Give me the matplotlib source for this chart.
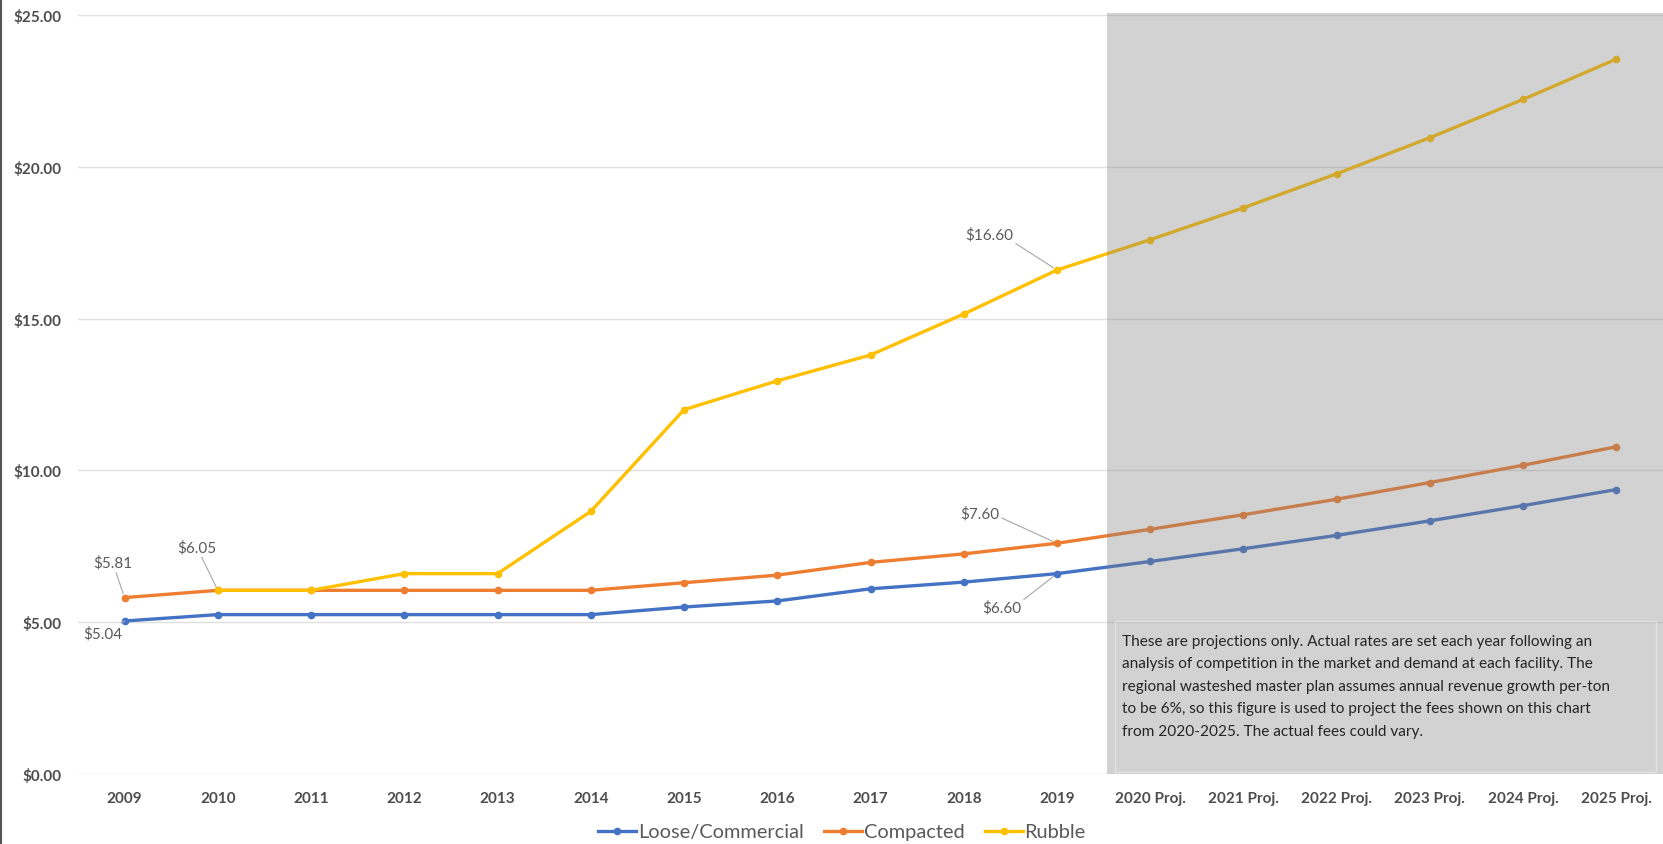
import numpy as np
import matplotlib
matplotlib.use("Agg")
import matplotlib.pyplot as plt
from matplotlib.patches import Rectangle
from matplotlib.lines import Line2D

plt.rcParams['font.family'] = ['Lato', 'DejaVu Sans']

categories = ["2009", "2010", "2011", "2012", "2013", "2014", "2015", "2016",
              "2017", "2018", "2019", "2020 Proj.", "2021 Proj.", "2022 Proj.",
              "2023 Proj.", "2024 Proj.", "2025 Proj."]
loose = [5.04, 5.25, 5.25, 5.25, 5.25, 5.25, 5.50, 5.70, 6.10, 6.32, 6.60,
         7.00, 7.42, 7.86, 8.34, 8.84, 9.37]
compacted = [5.81, 6.05, 6.05, 6.05, 6.05, 6.05, 6.30, 6.55, 6.97, 7.25, 7.60,
             8.06, 8.54, 9.05, 9.60, 10.17, 10.78]
rubble = [np.nan, 6.05, 6.05, 6.60, 6.60, 8.65, 12.00, 12.95, 13.80, 15.15, 16.60,
          17.60, 18.65, 19.77, 20.96, 22.22, 23.55]
yticks = [0, 5, 10, 15, 20, 25]
note = ("These are projections only. Actual rates are set each year following an\n"
        "analysis of competition in the market and demand at each facility. The\n"
        "regional wasteshed master plan assumes annual revenue growth per-ton\n"
        "to be 6%, so this figure is used to project the fees shown on this chart\n"
        "from 2020-2025. The actual fees could vary.")

W, H = 1663, 845
fig = plt.figure(figsize=(W / 100, H / 100), dpi=100)
ax = fig.add_axes([78 / W, 1 - 775 / H, 1 - 78 / W, (775 - 16) / H])

x = np.arange(len(categories))
series = [("Loose/Commercial", loose, "#4472C4"),
          ("Compacted", compacted, "#ED7D31"),
          ("Rubble", rubble, "#FFC000")]
handles = []
for name, vals, col in series:
    h, = ax.plot(x, vals, color=col, lw=2.4, marker='o', markersize=4.5,
                 label=name, zorder=3, solid_joinstyle='round')
    handles.append(h)

ax.set_xlim(-0.5, len(categories) - 0.5)
ax.set_ylim(0, 25)
ax.set_yticks(yticks)
ax.set_yticklabels([f"${v:.2f}" for v in yticks])
ax.set_xticks(x)
ax.set_xticklabels(categories)
ax.tick_params(axis='both', length=0, labelsize=11, labelcolor='#4d4d4d')
ax.tick_params(axis='y', pad=12)
ax.tick_params(axis='x', pad=12)
for lab in ax.get_xticklabels() + ax.get_yticklabels():
    lab.set_fontweight('bold')
ax.grid(axis='y', color='#e0e0e0', lw=1, zorder=0)
ax.set_axisbelow(True)
for s in ax.spines.values():
    s.set_visible(False)

# projection shading (semi-transparent overlay)
ax.add_patch(Rectangle((10.54, 0), 6.5, 25.05, facecolor='#808080', alpha=0.35,
                       edgecolor='none', zorder=4, clip_on=False))
# text box
ax.add_patch(Rectangle((10.62, 0.05), 5.8, 4.99, facecolor='none',
                       edgecolor='#e2e2e2', lw=1, zorder=5))
ax.text(10.70, 4.62, note, ha='left', va='top', fontsize=11.1, color='#262626',
        linespacing=1.78, zorder=6)

# data labels with leader lines
lead = dict(arrowstyle='-', color='#a6a6a6', lw=0.8, shrinkA=0, shrinkB=3)
lbl = dict(fontsize=11, color='#595959', textcoords='offset pixels', zorder=6)
ax.annotate(f"${compacted[0]:.2f}", (0, compacted[0]), xytext=(-12, 35),
            ha='center', va='center', arrowprops=lead, **lbl)
ax.annotate(f"${compacted[1]:.2f}", (1, compacted[1]), xytext=(-21, 43),
            ha='center', va='center', arrowprops=lead, **lbl)
ax.annotate(f"${loose[0]:.2f}", (0, loose[0]), xytext=(-22, -12),
            ha='center', va='center', arrowprops=lead, **lbl)
arm = dict(lead, connectionstyle="arc,angleA=0,armA=12,angleB=0,armB=0,rad=0")
ax.annotate(f"${rubble[10]:.2f}", (10, rubble[10]), xytext=(-44, 36),
            ha='right', va='center', arrowprops=arm, **lbl)
ax.annotate(f"${compacted[10]:.2f}", (10, compacted[10]), xytext=(-58, 30),
            ha='right', va='center', arrowprops=arm, **lbl)
ax.annotate(f"${loose[10]:.2f}", (10, loose[10]), xytext=(-36, -34),
            ha='right', va='center', arrowprops=arm, **lbl)

fig.legend(handles=handles, loc='center', bbox_to_anchor=(842 / W, 1 - 833 / H),
           ncol=3, frameon=False, fontsize=14.4, labelcolor='#595959',
           handlelength=1.9, handletextpad=0.1, columnspacing=1.0)

fig.add_artist(Line2D([0.0008, 0.0008], [0, 1], color='#555555', lw=1.5))

fig.savefig("out.png", dpi=100)
